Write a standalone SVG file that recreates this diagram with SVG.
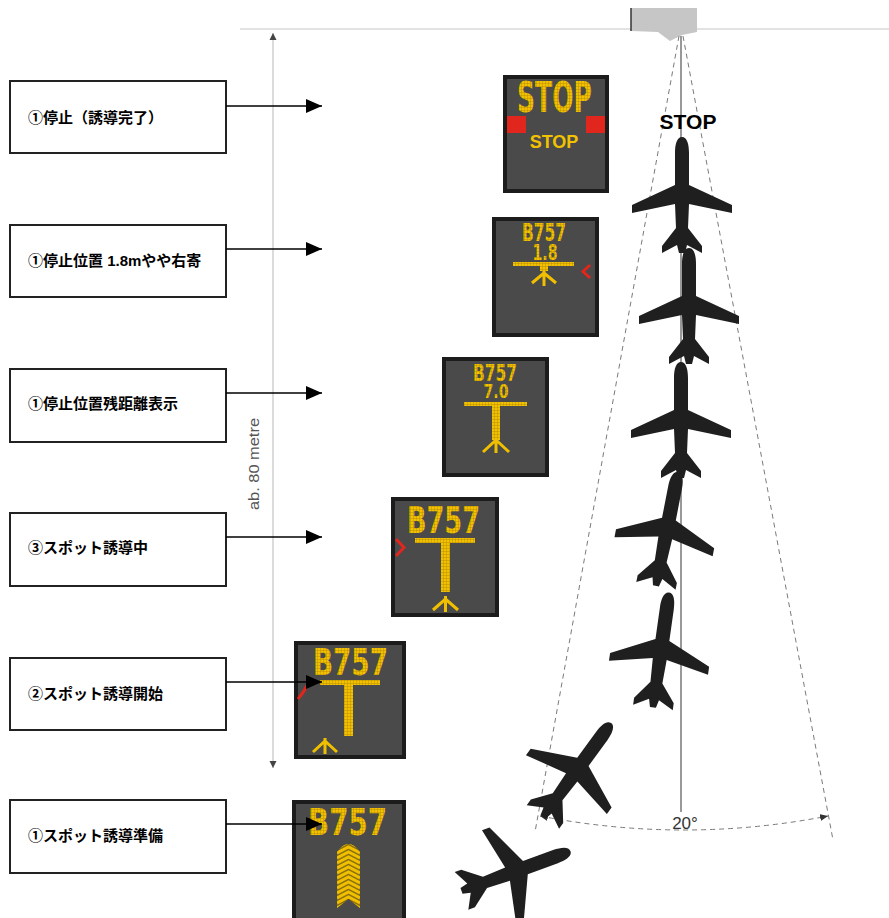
<svg xmlns="http://www.w3.org/2000/svg" width="889" height="918" viewBox="0 0 889 918">
  <style>
    .box { fill: #fff; stroke: #222; stroke-width: 2; }
    .lbl { font-family: "Liberation Sans", "Noto Sans CJK JP", sans-serif; font-weight: bold; font-size: 15px; fill: #000; }
    .conn { stroke: #000; stroke-width: 1.5; fill: none; }
    .panel { fill: #4a4a4a; stroke: #1c1c1c; stroke-width: 4; }
    .led { font-family: "DejaVu Sans", "Liberation Sans", sans-serif; font-weight: bold; fill: url(#led); text-anchor: middle; }
    .ledfill { fill: url(#led); }
    .ledline { stroke: #f0c000; stroke-width: 3; fill: none; stroke-linejoin: miter; }
    .red { stroke: #e0261d; stroke-width: 3; fill: none; }
    .fan { stroke: #7a7a7a; stroke-width: 1; stroke-dasharray: 5 4; fill: none; }
    .plane { fill: #1f1f1f; }
  </style>
  <defs>
    <pattern id="led" width="3" height="3" patternUnits="userSpaceOnUse">
      <rect width="3" height="3" fill="#f2c200"/>
      <path d="M0,2.7H3M2.7,0V3" stroke="#b98c00" stroke-width="0.6"/>
    </pattern>
    <marker id="ah" markerWidth="16" markerHeight="14" refX="16" refY="7" orient="auto" markerUnits="userSpaceOnUse">
      <path d="M0,0L16,7L0,14Z" fill="#000"/>
    </marker>
    <marker id="dimTip" markerWidth="8" markerHeight="8" refX="7" refY="4" orient="auto-start-reverse" markerUnits="userSpaceOnUse">
      <path d="M0,0.5L7,4L0,7.5Z" fill="#444"/>
    </marker>
    <marker id="arcTip" markerWidth="9" markerHeight="8" refX="8" refY="4" orient="auto-start-reverse" markerUnits="userSpaceOnUse">
      <path d="M0,0.5L8,4L0,7.5Z" fill="#333"/>
    </marker>
    <!-- aircraft silhouette, nose up, centred on the wing root -->
    <path id="plane" d="M0,-58 C5,-58 7,-51 7,-42 L7,-10 L50,10 L50,18 L7,9 L6,33 L20,51 L20,58 L5,50 L3,58 L-3,58 L-5,50 L-20,58 L-20,51 L-6,33 L-7,9 L-50,18 L-50,10 L-7,-10 L-7,-42 C-7,-51 -5,-58 0,-58Z"/>
    <clipPath id="zigClip">
      <path d="M337,908 L337,852 Q348.5,836 360,852 L360,908 L348.5,899 Z"/>
    </clipPath>
  </defs>

  <!-- stand line and sensor -->
  <g id="stand">
    <line x1="240" y1="29" x2="889" y2="29" stroke="#d8d8d8" stroke-width="1.5"/>
    <polygon points="631,8 697,8 697,32 682,35 670,41 658,32 631,31" fill="#c6c6c6"/>
    <line x1="631" y1="8" x2="631" y2="31" stroke="#333" stroke-width="1.5"/>
  </g>

  <!-- distance dimension -->
  <g id="dimension">
    <line x1="273" y1="33" x2="273" y2="768" stroke="#cfcfcf" stroke-width="1.5" marker-start="url(#dimTip)" marker-end="url(#dimTip)"/>
    <text transform="translate(259,464) rotate(-90)" text-anchor="middle" font-family="Liberation Sans, sans-serif" font-size="15" fill="#555" textLength="92" lengthAdjust="spacingAndGlyphs">ab. 80 metre</text>
  </g>

  <!-- scan field -->
  <g id="scanField">
    <line x1="681" y1="36" x2="681" y2="812" stroke="#555" stroke-width="1.2"/>
    <line class="fan" x1="679" y1="36" x2="535" y2="832"/>
    <line class="fan" x1="683" y1="36" x2="833" y2="840"/>
    <path class="fan" d="M540,816 Q684,844 828,816" marker-start="url(#arcTip)" marker-end="url(#arcTip)"/>
    <text x="685" y="829" text-anchor="middle" font-family="Liberation Sans, sans-serif" font-size="17" fill="#333">20°</text>
  </g>

  <text id="stopLabel" x="688" y="129" text-anchor="middle" font-family="Liberation Sans, sans-serif" font-weight="bold" font-size="21" fill="#000">STOP</text>

  <!-- aircraft approach sequence -->
  <g id="aircraft" class="plane">
    <use href="#plane" transform="translate(682,195)"/>
    <use href="#plane" transform="translate(689,306)"/>
    <use href="#plane" transform="translate(681,420)"/>
    <use href="#plane" transform="translate(667,529) rotate(11)"/>
    <use href="#plane" transform="translate(661,650) rotate(8)"/>
    <use href="#plane" transform="translate(577,770) rotate(36)"/>
    <use href="#plane" transform="translate(516,871) rotate(70)"/>
  </g>

  <!-- status boxes -->
  <g id="box-stop">
    <rect class="box" x="10" y="81" width="216" height="72"/>
    <text class="lbl" x="28" y="123">①停止（誘導完了）</text>
  </g>
  <g id="box-offset">
    <rect class="box" x="10" y="225" width="216" height="72"/>
    <text class="lbl" x="28" y="266">①停止位置 1.8mやや右寄</text>
  </g>
  <g id="box-distance">
    <rect class="box" x="10" y="369" width="216" height="73"/>
    <text class="lbl" x="28" y="409">①停止位置残距離表示</text>
  </g>
  <g id="box-guiding">
    <rect class="box" x="10" y="513" width="216" height="73"/>
    <text class="lbl" x="28" y="553">③スポット誘導中</text>
  </g>
  <g id="box-start">
    <rect class="box" x="10" y="658" width="216" height="72"/>
    <text class="lbl" x="28" y="699">②スポット誘導開始</text>
  </g>
  <g id="box-ready">
    <rect class="box" x="10" y="800" width="216" height="73"/>
    <text class="lbl" x="28" y="841">①スポット誘導準備</text>
  </g>

  <!-- display panels -->
  <g id="panel-stop">
    <rect class="panel" x="505" y="77" width="102" height="114"/>
    <text class="led" x="554.5" y="112" font-size="42" textLength="75" lengthAdjust="spacingAndGlyphs">STOP</text>
    <rect x="507" y="116" width="19" height="17" fill="#e0261d"/>
    <rect x="586" y="116" width="19" height="17" fill="#e0261d"/>
    <text x="554" y="148" text-anchor="middle" font-family="Liberation Sans, sans-serif" font-weight="bold" font-size="18" fill="#f2c200">STOP</text>
  </g>

  <g id="panel-offset">
    <rect class="panel" x="494" y="219" width="103" height="116"/>
    <text class="led" font-size="24"><tspan x="544" y="241" textLength="44" lengthAdjust="spacingAndGlyphs">B757</tspan><tspan x="545" y="260" font-size="21" textLength="25" lengthAdjust="spacingAndGlyphs">1.8</tspan></text>
    <rect class="ledfill" x="513" y="262" width="61" height="4"/>
    <rect class="ledfill" x="540" y="266" width="8" height="5"/>
    <path class="ledline" d="M544,271V286M532,283L544,273L556,283"/>
    <polyline class="red" points="590,265 583,271.5 590,278" stroke-width="2.5"/>
  </g>

  <g id="panel-distance">
    <rect class="panel" x="444" y="359" width="103" height="116"/>
    <text class="led" font-size="23"><tspan x="495" y="381" textLength="44" lengthAdjust="spacingAndGlyphs">B757</tspan><tspan x="496" y="398" font-size="20" textLength="25" lengthAdjust="spacingAndGlyphs">7.0</tspan></text>
    <rect class="ledfill" x="464" y="402" width="63" height="4"/>
    <rect class="ledfill" x="492" y="406" width="8" height="34"/>
    <path class="ledline" d="M496,438V453M483,452L496,440L509,452" stroke-width="4"/>
  </g>

  <g id="panel-guiding">
    <rect class="panel" x="393" y="499" width="104" height="116"/>
    <text class="led" x="443.5" y="533" font-size="38" textLength="73" lengthAdjust="spacingAndGlyphs">B757</text>
    <rect class="ledfill" x="415" y="538" width="60" height="5"/>
    <rect class="ledfill" x="441" y="543" width="9" height="49"/>
    <path class="ledline" d="M445.5,596V612M433,610L445.5,599L458,610"/>
    <polyline class="red" points="396,539 404,547.5 396,556"/>
  </g>

  <g id="panel-start">
    <rect class="panel" x="296" y="643" width="108" height="114"/>
    <text class="led" x="350.5" y="675" font-size="38" textLength="75" lengthAdjust="spacingAndGlyphs">B757</text>
    <rect class="ledfill" x="320" y="680" width="60" height="5"/>
    <rect class="ledfill" x="344" y="685" width="9" height="51"/>
    <path class="ledline" d="M325,738V754M313,752L325,741L337,752"/>
    <path class="red" d="M308,684 Q304,692 298,699"/>
  </g>

  <g id="panel-ready">
    <rect class="panel" x="294" y="802" width="110" height="120"/>
    <text class="led" x="347.5" y="835" font-size="38" textLength="79" lengthAdjust="spacingAndGlyphs">B757</text>
    <g clip-path="url(#zigClip)">
      <rect x="337" y="838" width="23" height="72" fill="#8a6e10"/>
      <path class="ledline" stroke-width="2.2" d="M337,848L348.5,842L360,848M337,853L348.5,847L360,853M337,858L348.5,852L360,858M337,863L348.5,857L360,863M337,868L348.5,862L360,868M337,873L348.5,867L360,873M337,878L348.5,872L360,878M337,883L348.5,877L360,883M337,888L348.5,882L360,888M337,893L348.5,887L360,893M337,898L348.5,892L360,898M337,903L348.5,897L360,903M337,908L348.5,902L360,908"/>
    </g>
  </g>

  <!-- connectors from status boxes to panels -->
  <g id="connectors">
    <line class="conn" x1="226" y1="106" x2="322" y2="106" marker-end="url(#ah)"/>
    <line class="conn" x1="226" y1="249" x2="322" y2="249" marker-end="url(#ah)"/>
    <line class="conn" x1="226" y1="393" x2="322" y2="393" marker-end="url(#ah)"/>
    <line class="conn" x1="226" y1="537" x2="322" y2="537" marker-end="url(#ah)"/>
    <line class="conn" x1="226" y1="682" x2="322" y2="682" marker-end="url(#ah)"/>
    <line class="conn" x1="226" y1="824" x2="322" y2="824" marker-end="url(#ah)"/>
  </g>
</svg>
